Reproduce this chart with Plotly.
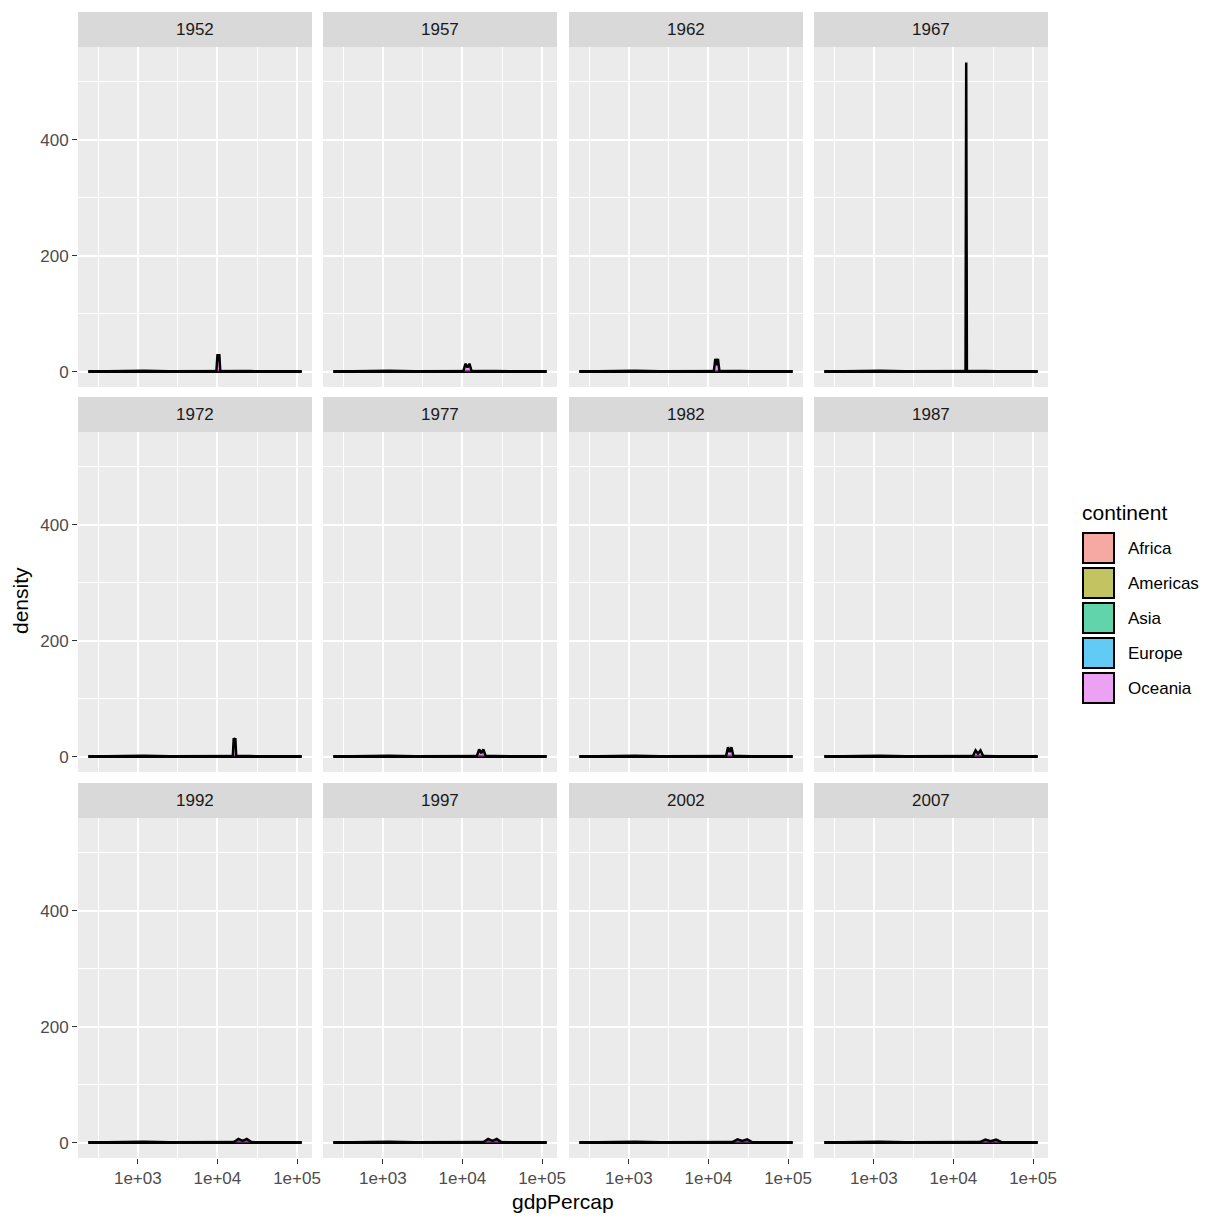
import plotly.graph_objects as go

# ---------------- data ----------------
YEARS = [1952, 1957, 1962, 1967, 1972, 1977, 1982, 1987, 1992, 1997, 2002, 2007]
CONTINENTS = ["Africa", "Americas", "Asia", "Europe", "Oceania"]
COLORS = ["#F8766D", "#A3A500", "#00BF7D", "#00B0F6", "#E76BF3"]

# broad, low densities of the large continents (density of log10 gdpPercap)
AFRICA_X = [241, 400, 700, 1200, 2500, 6000, 15000, 113523]
AFRICA_Y = [0.1, 0.6, 1.3, 1.2, 0.6, 0.15, 0.02, 0.0]
AMERICAS_X = [241, 1500, 3000, 5000, 8000, 15000, 40000, 113523]
AMERICAS_Y = [0.0, 0.2, 0.9, 1.3, 1.0, 0.4, 0.02, 0.0]
ASIA_X = [241, 500, 1000, 2500, 6000, 15000, 40000, 113523]
ASIA_Y = [0.05, 0.45, 0.65, 0.5, 0.35, 0.3, 0.2, 0.05]
EUROPE_X = [241, 2000, 5000, 9000, 15000, 25000, 50000, 113523]
EUROPE_Y = [0.0, 0.15, 0.8, 1.4, 1.5, 0.8, 0.05, 0.0]

# Oceania: narrow twin peaks (one per year)
OCEANIA_X = [
    [241, 9700, 10040, 10290, 10557, 10870, 113523],
    [241, 10230, 10950, 11580, 12247, 13100, 113523],
    [241, 11680, 12217, 12690, 13176, 13780, 113523],
    [241, 14200, 14490, 14780, 113523],
    [241, 15610, 16046, 16410, 16789, 17260, 113523],
    [241, 15100, 16234, 17250, 18334, 19710, 113523],
    [241, 16620, 17632, 18530, 19477, 20660, 113523],
    [241, 17470, 19007, 20400, 21889, 23820, 113523],
    [241, 15870, 18363, 20740, 23425, 27100, 113523],
    [241, 18130, 21050, 23840, 26998, 31340, 113523],
    [241, 19600, 23190, 26680, 30688, 36300, 113523],
    [241, 20880, 25185, 29450, 34435, 41530, 113523],
]
OCEANIA_Y = [
    [0, 0, 30, 20, 30, 0, 0],
    [0, 0, 13.5, 7, 13.5, 0, 0],
    [0, 0, 22, 11, 22, 0, 0],
    [0, 0, 533, 0, 0],
    [0, 0, 32, 20, 32, 0, 0],
    [0, 0, 12.5, 6, 12.5, 0, 0],
    [0, 0, 16, 7.5, 16, 0, 0],
    [0, 0, 10.5, 5, 10.5, 0, 0],
    [0, 0, 6.3, 3, 6.3, 0, 0],
    [0, 0, 6.2, 3, 6.2, 0, 0],
    [0, 0, 5.5, 2.6, 5.5, 0, 0],
    [0, 0, 5.0, 2.3, 5.0, 0, 0],
]

X_TICKS = [1e3, 1e4, 1e5]
X_TICKTEXT = ["1e+03", "1e+04", "1e+05"]
X_MINOR = [10 ** 2.5, 10 ** 3.5, 10 ** 4.5]
Y_TICKS = [0, 200, 400]
Y_MINOR = [100, 300, 500]

# ---------------- layout geometry ----------------
W = H = 1224
COL_X0 = [78, 323, 569, 814]
PANEL_W = 234
ROW_STRIP_TOP = [12, 397, 783]
STRIP_H = 35
PANEL_H = 340
X_RANGE = [2.2485, 5.1885]
Y_RANGE = [-26.65, 559.65]

FONT = "Liberation Sans, Arial, sans-serif"
TICK_COLOR = "#4D4D4D"


def alpha(hexc, a):
    h = hexc.lstrip("#")
    r, g, b = int(h[0:2], 16), int(h[2:4], 16), int(h[4:6], 16)
    return f"rgba({r},{g},{b},{a})"


fig = go.Figure()
shapes = []
annotations = []

series_x = [AFRICA_X, AMERICAS_X, ASIA_X, EUROPE_X]
series_y = [AFRICA_Y, AMERICAS_Y, ASIA_Y, EUROPE_Y]

for i, year in enumerate(YEARS):
    r, c = divmod(i, 4)
    k = i + 1
    xa = "x" if k == 1 else f"x{k}"
    ya = "y" if k == 1 else f"y{k}"
    x0 = COL_X0[c]
    ptop = ROW_STRIP_TOP[r] + STRIP_H
    pbot = ptop + PANEL_H
    xdom = [x0 / W, (x0 + PANEL_W) / W]
    ydom = [1 - pbot / H, 1 - ptop / H]

    xs_list = series_x + [OCEANIA_X[i]]
    ys_list = series_y + [OCEANIA_Y[i]]
    for j, cont in enumerate(CONTINENTS):
        fig.add_trace(go.Scatter(
            x=xs_list[j], y=ys_list[j], xaxis=xa, yaxis=ya,
            mode="lines", fill="tozeroy",
            fillcolor=alpha(COLORS[j], 0.6),
            line=dict(color="black", width=2.5),
            name=cont, showlegend=False, hoverinfo="skip",
        ))

    bottom = r == 2
    left = c == 0
    xkey = "xaxis" if k == 1 else f"xaxis{k}"
    ykey = "yaxis" if k == 1 else f"yaxis{k}"
    fig.layout[xkey] = dict(
        domain=xdom, anchor=ya, type="log", range=X_RANGE, automargin=False,
        tickmode="array", tickvals=X_TICKS, ticktext=X_TICKTEXT,
        showticklabels=bottom, ticks="outside" if bottom else "",
        ticklen=5, tickwidth=1, tickcolor="#333333",
        tickfont=dict(family=FONT, size=17, color=TICK_COLOR),
        showgrid=True, gridcolor="white", gridwidth=2,
        zeroline=False, showline=False,
        minor=dict(tickmode="array", tickvals=X_MINOR, showgrid=True,
                   gridcolor="white", gridwidth=1, ticks=""),
    )
    fig.layout[ykey] = dict(
        domain=ydom, anchor=xa, range=Y_RANGE, automargin=False,
        tickmode="array", tickvals=Y_TICKS,
        showticklabels=left, ticks="outside" if left else "",
        ticklen=5, tickwidth=1, tickcolor="#333333",
        tickfont=dict(family=FONT, size=17, color=TICK_COLOR),
        showgrid=True, gridcolor="white", gridwidth=2,
        zeroline=False, showline=False,
        minor=dict(tickmode="array", tickvals=Y_MINOR, showgrid=True,
                   gridcolor="white", gridwidth=1, ticks=""),
    )
    # panel background
    shapes.append(dict(type="rect", xref="paper", yref="paper", layer="below",
                       x0=xdom[0], x1=xdom[1], y0=ydom[0], y1=ydom[1],
                       fillcolor="#EBEBEB", line=dict(width=0)))
    # strip
    st = ROW_STRIP_TOP[r]
    shapes.append(dict(type="rect", xref="paper", yref="paper", layer="below",
                       x0=xdom[0], x1=xdom[1], y0=1 - (st + STRIP_H) / H, y1=1 - st / H,
                       fillcolor="#D9D9D9", line=dict(width=0)))
    annotations.append(dict(text=str(year), xref="paper", yref="paper",
                            x=(xdom[0] + xdom[1]) / 2, y=1 - (st + STRIP_H / 2) / H,
                            showarrow=False, xanchor="center", yanchor="middle",
                            font=dict(family=FONT, size=17, color="#1A1A1A")))

# axis titles
annotations.append(dict(text="gdpPercap", xref="paper", yref="paper",
                        x=563 / W, y=1 - 1201 / H, showarrow=False,
                        xanchor="center", yanchor="middle",
                        font=dict(family=FONT, size=21, color="black")))
annotations.append(dict(text="density", xref="paper", yref="paper",
                        x=20 / W, y=1 - 601 / H, showarrow=False, textangle=-90,
                        xanchor="center", yanchor="middle",
                        font=dict(family=FONT, size=21, color="black")))

# legend (drawn by hand, ggplot style)
annotations.append(dict(text="continent", xref="paper", yref="paper",
                        x=1080 / W, y=1 - 512 / H, showarrow=False,
                        xanchor="left", yanchor="middle",
                        font=dict(family=FONT, size=21, color="black")))
KEY_TOPS = [532, 567, 602, 637, 672]
for j, cont in enumerate(CONTINENTS):
    t = KEY_TOPS[j]
    shapes.append(dict(type="rect", xref="paper", yref="paper",
                       x0=1082 / W, x1=1115 / W, y0=1 - (t + 32) / H, y1=1 - t / H,
                       fillcolor="#F2F2F2", line=dict(width=0)))
    shapes.append(dict(type="rect", xref="paper", yref="paper",
                       x0=1083 / W, x1=1114 / W, y0=1 - (t + 31) / H, y1=1 - (t + 1) / H,
                       fillcolor=alpha(COLORS[j], 0.6), line=dict(color="black", width=2)))
    annotations.append(dict(text=cont, xref="paper", yref="paper",
                            x=1126 / W, y=1 - (t + 16.5) / H, showarrow=False,
                            xanchor="left", yanchor="middle",
                            font=dict(family=FONT, size=17, color="black")))

fig.update_layout(
    template="none",
    width=W, height=H, margin=dict(l=0, r=0, t=0, b=0, pad=0, autoexpand=False),
    paper_bgcolor="white", plot_bgcolor="rgba(0,0,0,0)",
    showlegend=False, shapes=shapes, annotations=annotations,
)

fig.write_html(
    "out.html",
    config={"displayModeBar": False, "responsive": False},
    post_script=(
        "document.body.style.margin='0';document.body.style.padding='0';"
        "document.body.style.overflow='hidden';"
    ),
)
